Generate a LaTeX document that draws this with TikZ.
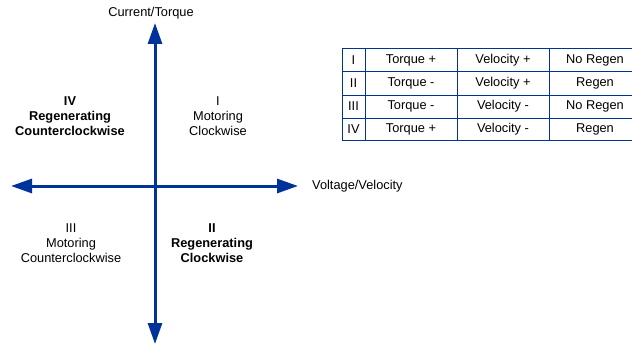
\documentclass[tikz,border=0pt]{standalone}
\usepackage{fontspec}
\setmainfont{Liberation Sans}
\usetikzlibrary{arrows.meta}

\definecolor{axisblue}{RGB}{0,51,153}

\tikzset{
  axis/.style={draw=axisblue, line width=3pt, {Triangle[length=21pt,width=14pt]}-{Triangle[length=21pt,width=14pt]}},
  quad/.style={align=center, font=\fontsize{12.8}{14.8}\selectfont},
  quadbold/.style={quad, font=\fontsize{12.8}{14.8}\selectfont\bfseries},
  cell/.style={font=\fontsize{12.8}{14}\selectfont, inner sep=0pt},
  grid/.style={draw=axisblue, line width=1pt}
}

\begin{document}
\begin{tikzpicture}[x=1pt, y=-1pt]
    \useasboundingbox (0,0) rectangle (632,345);

    % axes
    \coordinate (top) at (155,23);
    \coordinate (bot) at (155,344);
    \coordinate (lft) at (11,186);
    \coordinate (rgt) at (298,186);
    \draw[axis] (bot) -- (top);
    \draw[axis] (lft) -- (rgt);

    % axis labels
    \node[cell] (ylab) at (151,13) {Current/Torque};
    \node[cell, anchor=west] (xlab) at (312,186) {Voltage/Velocity};

    % quadrants
    \node[quadbold] (q4) at (70,116) {IV\\Regenerating\\Counterclockwise};
    \node[quad] (q1) at (218,116) {I\\Motoring\\Clockwise};
    \node[quad] (q3) at (71,243) {III\\Motoring\\Counterclockwise};
    \node[quadbold] (q2) at (212,243) {II\\Regenerating\\Clockwise};

    % table grid
    \draw[grid] (632,49) -- (342,49) -- (342,140) -- (632,140);
    \foreach \y in {72,95,118}
      \draw[grid] (342,\y) -- (632,\y);
    \foreach \x in {365,457,549}
      \draw[grid] (\x,49) -- (\x,140);

    % table entries
    \foreach \r/\q/\v/\g [count=\i] in {%
        I/Torque +/Velocity +/No Regen,
        II/Torque -/Velocity +/Regen,
        III/Torque -/Velocity -/No Regen,
        IV/Torque +/Velocity -/Regen} {
      \pgfmathsetmacro{\yc}{49+23*(\i-0.5)}
      \node[cell] (num\i) at (353.5,\yc) {\r};
      \node[cell] (trq\i) at (411,\yc) {\q};
      \node[cell] (vel\i) at (503,\yc) {\v};
      \node[cell] (reg\i) at (595,\yc) {\g};
    }
\end{tikzpicture}
\end{document}
